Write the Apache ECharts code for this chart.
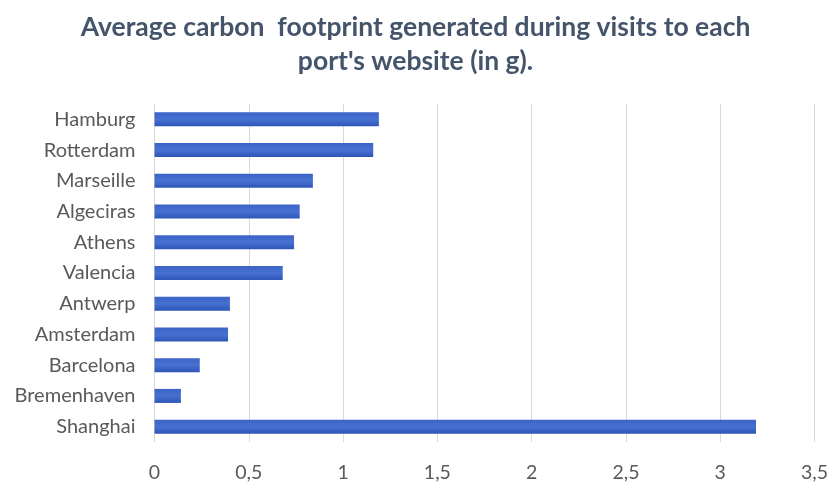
<!DOCTYPE html>
<html>
<head>
<meta charset="utf-8">
<script src="https://cdn.jsdelivr.net/npm/echarts@6/dist/echarts.min.js"></script>
<style>
  html, body { margin: 0; padding: 0; background: #fff; }
  #chart { width: 831px; height: 483px; }
</style>
</head>
<body>
<div id="chart"></div>
<script>
// Ports, listed top to bottom
const ports = ['Hamburg', 'Rotterdam', 'Marseille', 'Algeciras', 'Athens', 'Valencia',
               'Antwerp', 'Amsterdam', 'Barcelona', 'Bremenhaven', 'Shanghai'];
// Average grams of CO2 per website visit
const footprint = [1.19, 1.16, 0.84, 0.77, 0.74, 0.68, 0.40, 0.39, 0.24, 0.14, 3.19];
// Value-axis ticks (decimal comma)
const tickValues = [0, 0.5, 1, 1.5, 2, 2.5, 3, 3.5];
const tickLabels = ['0', '0,5', '1', '1,5', '2', '2,5', '3', '3,5'];

const font = 'Lato, "Open Sans", sans-serif';
const chart = echarts.init(document.getElementById('chart'));

chart.setOption({
  backgroundColor: '#ffffff',
  animation: false,
  title: {
    text: 'Average carbon  footprint generated during visits to each\nport\'s website (in g).',
    left: 'center',
    top: 5,
    textStyle: {
      fontFamily: font,
      fontSize: 26.5,
      fontWeight: 'bold',
      color: '#44546A',
      lineHeight: 34,
      align: 'center'
    }
  },
  grid: { left: 154.5, right: 15.3, top: 104, bottom: 36.5, containLabel: false },
  xAxis: {
    type: 'value',
    min: 0,
    max: 3.5,
    interval: 0.5,
    axisLine: { show: false },
    axisTick: { show: false },
    splitLine: { show: true, lineStyle: { color: '#D9D9D9', width: 1 } },
    axisLabel: {
      margin: 21,
      fontFamily: font,
      fontSize: 19.5,
      color: '#595959',
      formatter: v => {
        const i = tickValues.findIndex(t => Math.abs(t - v) < 1e-9);
        return i >= 0 ? tickLabels[i] : '';
      }
    }
  },
  yAxis: {
    type: 'category',
    data: ports,
    inverse: true,
    axisLine: { show: false },
    axisTick: { show: false },
    axisLabel: {
      margin: 19,
      fontFamily: font,
      fontSize: 20,
      color: '#595959'
    }
  },
  series: [{
    type: 'bar',
    data: footprint,
    barWidth: 14,
    itemStyle: {
      color: new echarts.graphic.LinearGradient(0, 0, 0, 1, [
        { offset: 0, color: '#3C63C6' },
        { offset: 0.5, color: '#4671D1' },
        { offset: 1, color: '#2E55B7' }
      ])
    }
  }]
});
</script>
</body>
</html>
